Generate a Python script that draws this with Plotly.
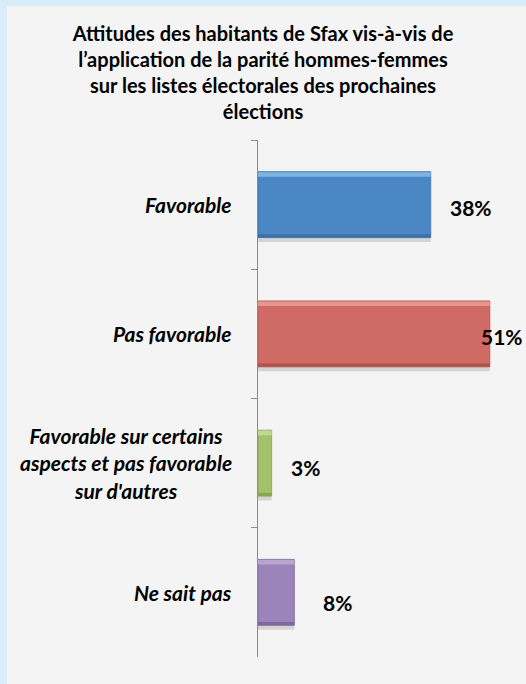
import plotly.graph_objects as go

categories = ["Favorable", "Pas favorable",
              "Favorable sur certains<br>aspects et pas favorable<br>sur d'autres",
              "Ne sait pas"]
values = [38, 51, 3, 8]
value_labels = ["38%", "51%", "3%", "8%"]

bar_colors = ["#4b87c5", "#cf6a64", "#a3c26b", "#9a84ba"]
bar_highlights = ["#80b3e0", "#e6958f", "#c0d890", "#b8a6d0"]
bar_darks = ["#3e70a8", "#b0534d", "#89a656", "#7f6a9e"]
label_xshift = [17, -11, 17, 27]
label_yshift = [-3, -3, -4, -10]

FONT = "Lato"
W = 0.51

fig = go.Figure()

# soft shadow under bars
fig.add_trace(go.Bar(
    y=categories, x=values, orientation="h",
    marker=dict(color="rgba(110,100,90,0.22)", line=dict(width=0)),
    width=W, offset=-W / 2 + 0.035,
    hoverinfo="skip", showlegend=False,
))
# bar body
fig.add_trace(go.Bar(
    y=categories, x=values, orientation="h",
    marker=dict(color=bar_colors, line=dict(color=bar_darks, width=0.8)),
    width=W, offset=-W / 2,
    showlegend=False,
))
# bevel highlight on top edge
fig.add_trace(go.Bar(
    y=categories, x=values, orientation="h",
    marker=dict(color=bar_highlights, line=dict(width=0)),
    width=0.035, offset=-W / 2 + 0.004,
    hoverinfo="skip", showlegend=False,
))
# darker bottom edge
fig.add_trace(go.Bar(
    y=categories, x=values, orientation="h",
    marker=dict(color=bar_darks, line=dict(width=0)),
    width=0.025, offset=W / 2 - 0.025,
    hoverinfo="skip", showlegend=False,
))

# category labels
for c in categories:
    fig.add_annotation(
        x=0, xref="x", y=c, yref="y", text="<b><i>" + c + "</i></b>",
        xanchor="right", xshift=-24, align="center", showarrow=False,
        font=dict(family=FONT, size=21, color="#000000"),
    )

# value labels
for c, v, t, dx, dy in zip(categories, values, value_labels, label_xshift, label_yshift):
    fig.add_annotation(
        x=v, xref="x", y=c, yref="y", text="<b>" + t + "</b>",
        xanchor="left", xshift=dx, yshift=dy, showarrow=False,
        font=dict(family=FONT, size=21, color="#000000"),
    )

# inner light panel
fig.add_shape(type="rect", xref="paper", yref="paper",
              x0=(7 - 258) / 250, x1=(530 - 258) / 250,
              y0=(657 - 690) / 517, y1=(657 - 6) / 517,
              fillcolor="#f4f4f4", line=dict(width=0), layer="below")

fig.update_layout(
    width=526, height=684,
    margin=dict(l=258, r=18, t=140, b=27),
    paper_bgcolor="#d8edf9",
    plot_bgcolor="rgba(0,0,0,0)",
    barmode="overlay",
    title=dict(
        text="<b>Attitudes des habitants de Sfax vis-à-vis de<br>"
             "l’application de la parité hommes-femmes<br>"
             "sur les listes électorales des prochaines<br>élections</b>",
        x=0.5, xref="container", xanchor="center",
        y=1 - 41 / 684, yref="container", yanchor="top",
        font=dict(family=FONT, size=20, color="#000000"),
    ),
    xaxis=dict(range=[0, 55], visible=False, fixedrange=True),
    yaxis=dict(
        type="category", categoryarray=categories, autorange="reversed",
        showticklabels=False, tickson="boundaries",
        ticks="outside", ticklen=6, tickcolor="#8c8c8c", tickwidth=1.3,
        showline=True, linecolor="#8c8c8c", linewidth=1.3,
        showgrid=False, zeroline=False,
    ),
)

fig.write_html("out.html",
               config={"displayModeBar": False},
               post_script="document.body.style.margin='0';"
                           "document.body.style.overflow='hidden';")
